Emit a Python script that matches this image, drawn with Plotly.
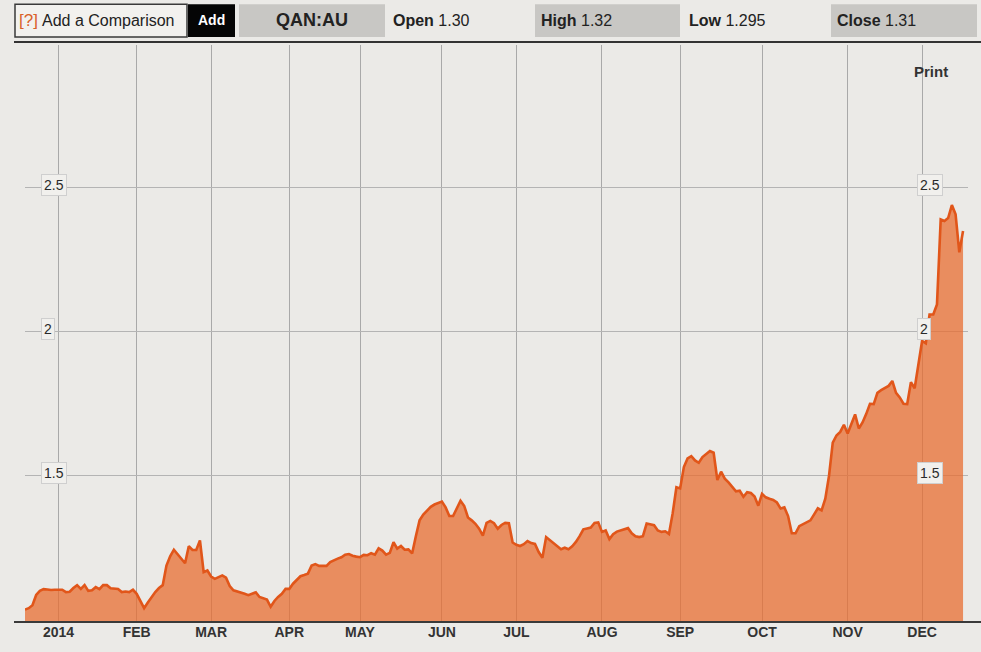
import pandas as pd
import plotly.graph_objects as go

# ---------------- data (QAN:AU daily close) ----------------
START_DATE = "2013-12-17"
END_DATE = "2014-12-16"
HOLIDAYS = ["2013-12-25", "2013-12-26", "2014-01-01", "2014-01-27",
            "2014-04-18", "2014-04-21", "2014-04-25", "2014-06-09"]

DEC13 = [1.035, 1.04, 1.05, 1.086, 1.10, 1.106, 1.105, 1.103, 1.104]
JAN = [1.104, 1.104, 1.096, 1.097, 1.11, 1.12, 1.107, 1.12, 1.10, 1.102, 1.113,
       1.106, 1.12, 1.12, 1.109, 1.108, 1.107, 1.096, 1.098, 1.096, 1.104]
FEB = [1.09, 1.065, 1.04, 1.06, 1.08, 1.096, 1.11, 1.12, 1.188, 1.22, 1.243,
       1.228, 1.212, 1.196, 1.255, 1.242, 1.242, 1.275, 1.165, 1.171]
MAR = [1.15, 1.142, 1.148, 1.154, 1.146, 1.117, 1.102, 1.098, 1.096, 1.09, 1.085,
       1.09, 1.095, 1.079, 1.075, 1.07, 1.045, 1.065, 1.079, 1.09, 1.107]
APR = [1.107, 1.125, 1.137, 1.151, 1.155, 1.16, 1.188, 1.193, 1.187, 1.186,
       1.187, 1.20, 1.207, 1.212, 1.217, 1.226, 1.228, 1.222, 1.219]
MAY = [1.217, 1.225, 1.224, 1.231, 1.226, 1.248, 1.24, 1.226, 1.232, 1.269, 1.247,
       1.256, 1.243, 1.244, 1.23, 1.29, 1.345, 1.365, 1.378, 1.392, 1.40, 1.405]
JUN = [1.41, 1.39, 1.36, 1.36, 1.385, 1.413, 1.395, 1.355, 1.345, 1.333, 1.316,
       1.292, 1.336, 1.343, 1.335, 1.316, 1.329, 1.336, 1.335, 1.268]
JUL = [1.26, 1.256, 1.262, 1.273, 1.266, 1.263, 1.235, 1.215, 1.287, 1.277, 1.268,
       1.258, 1.245, 1.25, 1.245, 1.255, 1.27, 1.29, 1.314, 1.317, 1.32, 1.336, 1.338]
AUG = [1.305, 1.31, 1.28, 1.297, 1.306, 1.31, 1.316, 1.318, 1.30, 1.29, 1.287,
       1.29, 1.334, 1.33, 1.328, 1.31, 1.305, 1.307, 1.298, 1.37, 1.46]
SEP = [1.456, 1.53, 1.56, 1.568, 1.553, 1.545, 1.565, 1.575, 1.586, 1.58, 1.485,
       1.514, 1.49, 1.477, 1.46, 1.446, 1.448, 1.427, 1.443, 1.44, 1.428, 1.396]
OCT = [1.437, 1.425, 1.42, 1.416, 1.407, 1.386, 1.39, 1.36, 1.30, 1.30, 1.325,
       1.332, 1.338, 1.345, 1.366, 1.387, 1.38, 1.42, 1.50, 1.615, 1.64, 1.652, 1.677]
NOV = [1.647, 1.68, 1.713, 1.664, 1.685, 1.715, 1.75, 1.749, 1.788, 1.797, 1.805,
       1.812, 1.829, 1.788, 1.772, 1.75, 1.749, 1.825, 1.804, 1.89]
DEC = [1.968, 1.96, 2.06, 2.06, 2.095, 2.39, 2.385, 2.395, 2.44, 2.408, 2.276, 2.35]

TICK_DATES = ["2014-01-02", "2014-02-03", "2014-03-03", "2014-04-01", "2014-05-01",
              "2014-06-02", "2014-07-01", "2014-08-01", "2014-09-01", "2014-10-01",
              "2014-11-03", "2014-12-01"]
TICK_LABELS = ["2014", "FEB", "MAR", "APR", "MAY", "JUN", "JUL", "AUG", "SEP",
               "OCT", "NOV", "DEC"]
Y_TICKS = [1.5, 2.0, 2.5]
Y_LABELS = ["1.5", "2", "2.5"]

SYMBOL = "QAN:AU"
QUOTE = [("Open", "1.30"), ("High", "1.32"), ("Low", "1.295"), ("Close", "1.31")]

# ---------------- build series ----------------
values = DEC13 + JAN + FEB + MAR + APR + MAY + JUN + JUL + AUG + SEP + OCT + NOV + DEC
days = pd.bdate_range(START_DATE, END_DATE)
days = days[~days.isin(pd.to_datetime(HOLIDAYS))]
dates = [d.strftime("%Y-%m-%d") for d in days]
n = min(len(dates), len(values))
dates, values = dates[:n], values[:n]

# ---------------- layout geometry ----------------
W, H = 981, 652
L, R, T, B = 25, 968, 45, 625
BG = "#ebeae7"
FONT = "Liberation Sans, Arial, sans-serif"


def PX(x):
    return (x - L) / (R - L)


def PY(y):
    return (B - y) / (B - T)


fig = go.Figure()
fig.add_trace(go.Scatter(
    x=dates, y=values, mode="lines",
    line=dict(color="#e1561a", width=2.6),
    fill="tozeroy", fillcolor="rgba(232,110,50,0.75)",
    hoverinfo="x+y", showlegend=False,
))

shapes = []
annotations = []


def rect(x0, y0, x1, y1, fill, line_color=None, lw=0):
    shapes.append(dict(type="rect", xref="paper", yref="paper",
                       x0=PX(x0), x1=PX(x1), y0=PY(y1), y1=PY(y0),
                       fillcolor=fill,
                       line=dict(color=line_color or fill, width=lw), layer="above"))


rect(15, 4, 187, 37, "#f2f1ee", "#3a3a3a", 1.5)
rect(188, 4, 235, 37, "#050505")
rect(239, 4, 385, 37, "#c8c7c4")
rect(535, 4, 680, 37, "#c8c7c4")
rect(831, 4, 977, 37, "#c8c7c4")

# toolbar separator line and bottom axis line
shapes.append(dict(type="line", xref="paper", yref="paper",
                   x0=PX(14), x1=PX(981), y0=PY(42), y1=PY(42),
                   line=dict(color="#333333", width=2)))
shapes.append(dict(type="line", xref="paper", yref="paper",
                   x0=PX(14), x1=PX(981), y0=0, y1=0,
                   line=dict(color="#3a3a3a", width=2)))


def text(x, y, s, size, color="#222222", anchor="left"):
    annotations.append(dict(xref="paper", yref="paper", x=PX(x), y=PY(y), text=s,
                            showarrow=False, xanchor=anchor, yanchor="middle",
                            font=dict(size=size, color=color, family=FONT)))


text(17, 20, "[?]", 17, color="#d9622a")
text(40, 20, "Add a Comparison", 16)
text(211.5, 20, "<b>Add</b>", 14, color="#ffffff", anchor="center")
text(312, 20, "<b>" + SYMBOL + "</b>", 18, anchor="center")
for (label, val), x0 in zip(QUOTE, [391, 539, 687, 835]):
    text(x0, 20, "<b>" + label + "</b> " + val, 16)
text(950, 72, "<b>Print</b>", 15, color="#333333", anchor="right")

# y value labels (boxed), left and right
for v, lab in zip(Y_TICKS, Y_LABELS):
    for xl in (41, 917):
        annotations.append(dict(xref="paper", yref="y", x=PX(xl), y=v, text=lab,
                                showarrow=False, xanchor="left", yanchor="middle",
                                yshift=3, bgcolor="#f1f0ed", bordercolor="#cfcfcf",
                                borderwidth=1, borderpad=2,
                                font=dict(size=14, color="#2a2a2a", family=FONT)))

fig.update_layout(
    width=W, height=H,
    margin=dict(l=L, r=W - R, t=T, b=H - B, pad=0),
    paper_bgcolor=BG, plot_bgcolor=BG,
    shapes=shapes, annotations=annotations,
    showlegend=False,
    xaxis=dict(
        type="date",
        range=["2013-12-17", "2014-12-17 08:00"],
        rangebreaks=[dict(bounds=["sat", "mon"]), dict(values=HOLIDAYS)],
        tickvals=TICK_DATES,
        ticktext=["<b>" + t + "</b>" for t in TICK_LABELS],
        tickfont=dict(size=14, color="#333333", family=FONT),
        showgrid=True, gridcolor="#a9a9a9", gridwidth=1,
        ticks="", showline=False, zeroline=False, fixedrange=True,
    ),
    yaxis=dict(
        range=[0.992, 2.996],
        tickvals=Y_TICKS, showticklabels=False,
        showgrid=True, gridcolor="#b4b4b4", gridwidth=1,
        ticks="", showline=False, zeroline=False, fixedrange=True,
    ),
)

fig.write_html(
    "out.html",
    config={"displayModeBar": False},
    post_script="document.body.style.margin='0';document.body.style.background='" + BG + "';",
)
